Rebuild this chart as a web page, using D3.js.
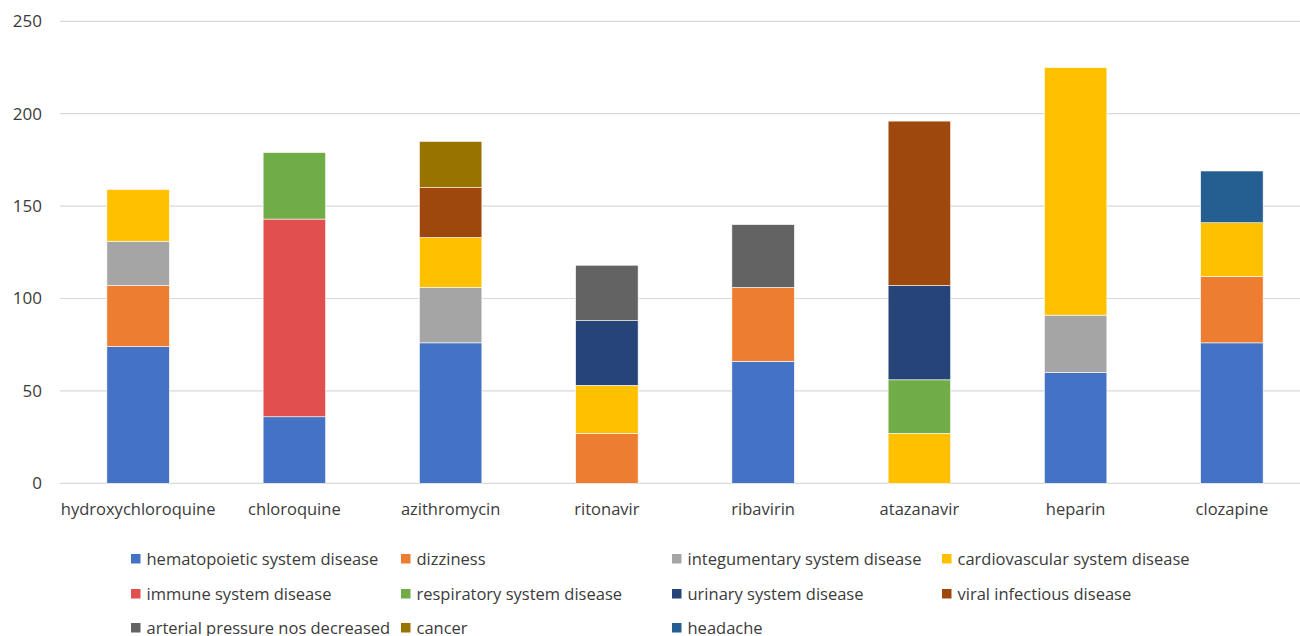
<!DOCTYPE html>
<html>
<head>
<meta charset="utf-8">
<script src="https://cdn.jsdelivr.net/npm/d3@7"></script>
<style>
  html, body { margin: 0; padding: 0; background: #fff; }
  svg { display: block; }
  text { font-family: "Open Sans", "Noto Sans", sans-serif; fill: #3b3b3b; }
</style>
</head>
<body>
<svg id="chart" width="1300" height="636"></svg>
<script>
// Drugs along the x axis
const drugs = ["hydroxychloroquine", "chloroquine", "azithromycin", "ritonavir",
               "ribavirin", "atazanavir", "heparin", "clozapine"];

// Adverse-event categories (stack order, bottom to top)
const seriesNames = [
  "hematopoietic system disease", "dizziness", "integumentary system disease",
  "cardiovascular system disease", "immune system disease", "respiratory system disease",
  "urinary system disease", "viral infectious disease", "arterial pressure nos decreased",
  "cancer", "headache"
];

// Counts per category, one value per drug (same order as drugs)
const hematopoietic  = [74, 36, 76, 0, 66, 0, 60, 76];
const dizziness      = [33, 0, 0, 27, 40, 0, 0, 36];
const integumentary  = [24, 0, 30, 0, 0, 0, 31, 0];
const cardiovascular = [28, 0, 27, 26, 0, 27, 134, 29];
const immune         = [0, 107, 0, 0, 0, 0, 0, 0];
const respiratory    = [0, 36, 0, 0, 0, 29, 0, 0];
const urinary        = [0, 0, 0, 35, 0, 51, 0, 0];
const viral          = [0, 0, 27, 0, 0, 89, 0, 0];
const arterial       = [0, 0, 0, 30, 34, 0, 0, 0];
const cancer         = [0, 0, 25, 0, 0, 0, 0, 0];
const headache       = [0, 0, 0, 0, 0, 0, 0, 28];

const seriesValues = [hematopoietic, dizziness, integumentary, cardiovascular, immune,
                      respiratory, urinary, viral, arterial, cancer, headache];

const seriesColors = ["#4472C4", "#ED7D31", "#A5A5A5", "#FFC000", "#E24F4F", "#70AD47",
                      "#264478", "#9E480E", "#636363", "#997300", "#255E91"];

const yTicks = [0, 50, 100, 150, 200, 250];

// Build rows for d3.stack
const rows = drugs.map((d, i) => {
  const r = { drug: d };
  seriesNames.forEach((s, j) => { r[s] = seriesValues[j][i]; });
  return r;
});

const svg = d3.select("#chart");

const x = d3.scaleBand().domain(drugs).range([60, 1310]).paddingInner(0.6).paddingOuter(0.3);
const y = d3.scaleLinear().domain([0, 250]).range([483.3, 21.3]);
const color = d3.scaleOrdinal().domain(seriesNames).range(seriesColors);

// Gridlines
svg.append("g")
  .selectAll("line")
  .data(yTicks)
  .join("line")
  .attr("x1", 60).attr("x2", 1310)
  .attr("y1", d => y(d)).attr("y2", d => y(d))
  .attr("stroke", "#d9d9d9").attr("stroke-width", 1.2);

// Y axis labels
const yAxis = d3.axisLeft(y).tickValues(yTicks).tickSize(0).tickPadding(0);
svg.append("g")
  .attr("transform", "translate(42,0)")
  .call(yAxis)
  .call(g => g.select(".domain").remove())
  .call(g => g.selectAll("text")
    .attr("font-size", 17)
    .attr("font-family", "Open Sans, sans-serif")
    .attr("fill", "#3b3b3b"));

// Stacked bars
const stacked = d3.stack().keys(seriesNames)(rows);
svg.append("g")
  .selectAll("g")
  .data(stacked)
  .join("g")
  .attr("fill", d => color(d.key))
  .selectAll("rect")
  .data(d => d.filter(p => p[1] - p[0] > 0))
  .join("rect")
  .attr("x", p => x(p.data.drug))
  .attr("width", x.bandwidth())
  .attr("y", p => y(p[1]))
  .attr("height", p => y(p[0]) - y(p[1]))
  .attr("stroke", "#fff")
  .attr("stroke-width", 0.6);

// X axis labels
const xAxis = d3.axisBottom(x).tickSize(0).tickPadding(0);
svg.append("g")
  .attr("transform", "translate(0,509)")
  .call(xAxis)
  .call(g => g.select(".domain").remove())
  .call(g => g.selectAll("text")
    .attr("y", 0)
    .attr("dy", "0.35em")
    .attr("font-size", 16.5)
    .attr("font-family", "Open Sans, sans-serif")
    .attr("fill", "#3b3b3b"));

// Legend (4 columns, row-major)
const legendCols = [131, 401, 672, 942];
const legendRows = [559, 594, 628];
const legend = svg.append("g")
  .selectAll("g")
  .data(seriesNames)
  .join("g")
  .attr("transform", (d, i) => `translate(${legendCols[i % 4]},${legendRows[Math.floor(i / 4)]})`);
legend.append("rect")
  .attr("x", 0).attr("y", -5).attr("width", 9.5).attr("height", 9.5)
  .attr("fill", d => color(d));
legend.append("text")
  .attr("x", 15.5).attr("y", 0).attr("dy", "0.35em")
  .attr("font-size", 16.5)
  .text(d => d);
</script>
</body>
</html>
